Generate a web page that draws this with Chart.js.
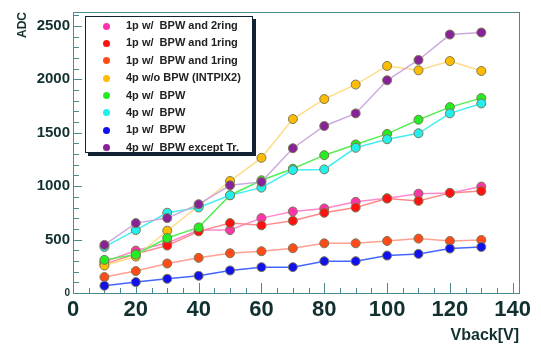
<!DOCTYPE html>
<html>
<head>
<meta charset="utf-8">
<script src="https://cdn.jsdelivr.net/npm/chart.js@4"></script>
<style>
  body { margin: 0; background: #fff; }
  #wrap { position: relative; width: 541px; height: 347px; }
  #legend {
    position: absolute; left: 85px; top: 16px; width: 166px; height: 135px;
    border: 1px solid #123; box-shadow: 3px 3px 0 #123; background: #fff;
    font: bold 11px "Liberation Sans", Arial, sans-serif; color: #222;
  }
  #legend .row { position: relative; height: 17.4px; line-height: 17.4px; white-space: pre; }
  #legend .dot { position: absolute; left: 17px; top: 5.5px; width: 7px; height: 7px; border-radius: 50%; }
  #legend .txt { position: absolute; left: 40px; }
</style>
</head>
<body>
<div id="wrap">
  <canvas id="c" width="541" height="347"></canvas>
  <div id="legend"></div>
</div>
<script>
// Vback [V]
const vback = [10, 20, 30, 40, 50, 60, 70, 80, 90, 100, 110, 120, 130];
const xTicks = [0, 20, 40, 60, 80, 100, 120, 140];
const yTicks = [0, 500, 1000, 1500, 2000, 2500];

const names = [
  '1p w/  BPW and 2ring',
  '1p w/  BPW and 1ring',
  '1p w/  BPW and 1ring',
  '4p w/o BPW (INTPIX2)',
  '4p w/  BPW',
  '4p w/  BPW',
  '1p w/  BPW',
  '4p w/  BPW except Tr.'
];

// ADC values per series
const pink2ring  = [290, 397, 468, 589, 589, 701, 763, 791, 853, 887, 930, 937, 996];
const red1ring   = [270, 366, 444, 577, 654, 633, 676, 751, 800, 884, 862, 937, 955];
const orange1ring = [149, 205, 276, 329, 372, 391, 419, 465, 465, 487, 509, 487, 496];
const intpix2    = [257, 341, 583, 816, 1048, 1265, 1628, 1815, 1951, 2125, 2084, 2171, 2078];
const green4p    = [310, 360, 515, 614, 915, 1055, 1163, 1290, 1390, 1489, 1622, 1740, 1824];
const cyan4p     = [431, 589, 751, 800, 915, 986, 1151, 1157, 1359, 1439, 1495, 1681, 1774];
const blue1p     = [68, 102, 133, 161, 211, 242, 242, 298, 298, 350, 366, 416, 431];
const exceptTr   = [450, 654, 701, 831, 1008, 1040, 1355, 1563, 1681, 1991, 2181, 2419, 2438];

const seriesData = [pink2ring, red1ring, orange1ring, intpix2, green4p, cyan4p, blue1p, exceptTr];
const markColors = ['#ff33aa', '#ff1111', '#ff4a1a', '#ffbb00', '#22ee22', '#22eeee', '#1111ee', '#882299'];
const lineColors = ['#ff88cc', '#ff8888', '#ffa090', '#ffdd88', '#55ee55', '#44eeee', '#4466ff', '#ccaadd'];

const axisColor = '#4a8a8a';
const font = '"Liberation Sans", Arial, sans-serif';

const datasets = seriesData.map((d, i) => ({
  label: names[i],
  data: d.map((v, j) => ({ x: vback[j], y: v })),
  borderColor: lineColors[i],
  borderWidth: 1.5,
  backgroundColor: markColors[i],
  pointBackgroundColor: markColors[i],
  pointBorderColor: '#7a7a55',
  pointBorderWidth: 1,
  pointRadius: 4.5,
  order: seriesData.length - i
}));

// ROOT-like frame with inward ticks
const frame = {
  id: 'frame',
  beforeDatasetsDraw(chart) {
    const { ctx, chartArea: a, scales } = chart;
    ctx.save();
    ctx.strokeStyle = axisColor;
    ctx.lineWidth = 1;
    ctx.strokeRect(a.left + 0.5, a.top + 0.5, a.right - a.left, a.bottom - a.top);
    ctx.beginPath();
    for (let v = 0; v <= 140; v += 5) {
      const x = Math.round(scales.x.getPixelForValue(v)) + 0.5;
      const len = v % 20 === 0 ? 10 : 5;
      ctx.moveTo(x, a.bottom);
      ctx.lineTo(x, a.bottom - len);
    }
    for (let v = 0; v <= 2600; v += 100) {
      const y = Math.round(scales.y.getPixelForValue(v)) + 0.5;
      const len = v % 500 === 0 ? 9 : 6;
      ctx.moveTo(a.left, y);
      ctx.lineTo(a.left + len, y);
    }
    ctx.stroke();
    ctx.restore();
  }
};

const chart = new Chart(document.getElementById('c'), {
  type: 'line',
  data: { datasets },
  options: {
    responsive: false,
    animation: false,
    layout: { padding: { left: 0, top: 9, right: 22, bottom: 0 } },
    plugins: { legend: { display: false }, tooltip: { enabled: false } },
    scales: {
      x: {
        type: 'linear',
        min: 0,
        max: 142,
        afterFit: s => { s.height = 54; },
        afterBuildTicks: s => { s.ticks = xTicks.map(v => ({ value: v })); },
        grid: { display: false, drawTicks: false },
        border: { display: false },
        ticks: {
          padding: 4,
          color: '#123030',
          callback: v => String(v),
          font: { family: font, size: 22, weight: 'bold' }
        },
        title: {
          display: true,
          text: 'Vback[V]',
          align: 'end',
          color: '#123030',
          padding: { top: 0, bottom: 2 },
          font: { family: font, size: 16, weight: 'bold' }
        }
      },
      y: {
        min: 0,
        max: 2630,
        afterFit: s => { s.width = 73; },
        afterBuildTicks: s => { s.ticks = yTicks.map(v => ({ value: v })); },
        grid: { display: false, drawTicks: false },
        border: { display: false },
        ticks: {
          padding: 3,
          color: '#123030',
          callback: v => String(v),
          font: ctx => ({ family: font, size: ctx.tick && ctx.tick.value === 0 ? 10 : 15, weight: 'bold' })
        },
        title: {
          display: true,
          text: 'ADC',
          align: 'end',
          color: '#123030',
          padding: { top: 15, bottom: 0 },
          font: { family: font, size: 12, weight: 'bold' }
        }
      }
    }
  },
  plugins: [frame]
});

// HTML legend built from the datasets
const leg = document.getElementById('legend');
chart.data.datasets.forEach((ds, i) => {
  const row = document.createElement('div');
  row.className = 'row';
  const dot = document.createElement('span');
  dot.className = 'dot';
  dot.style.background = markColors[i];
  const txt = document.createElement('span');
  txt.className = 'txt';
  txt.textContent = ds.label;
  row.appendChild(dot);
  row.appendChild(txt);
  leg.appendChild(row);
});
</script>
</body>
</html>
